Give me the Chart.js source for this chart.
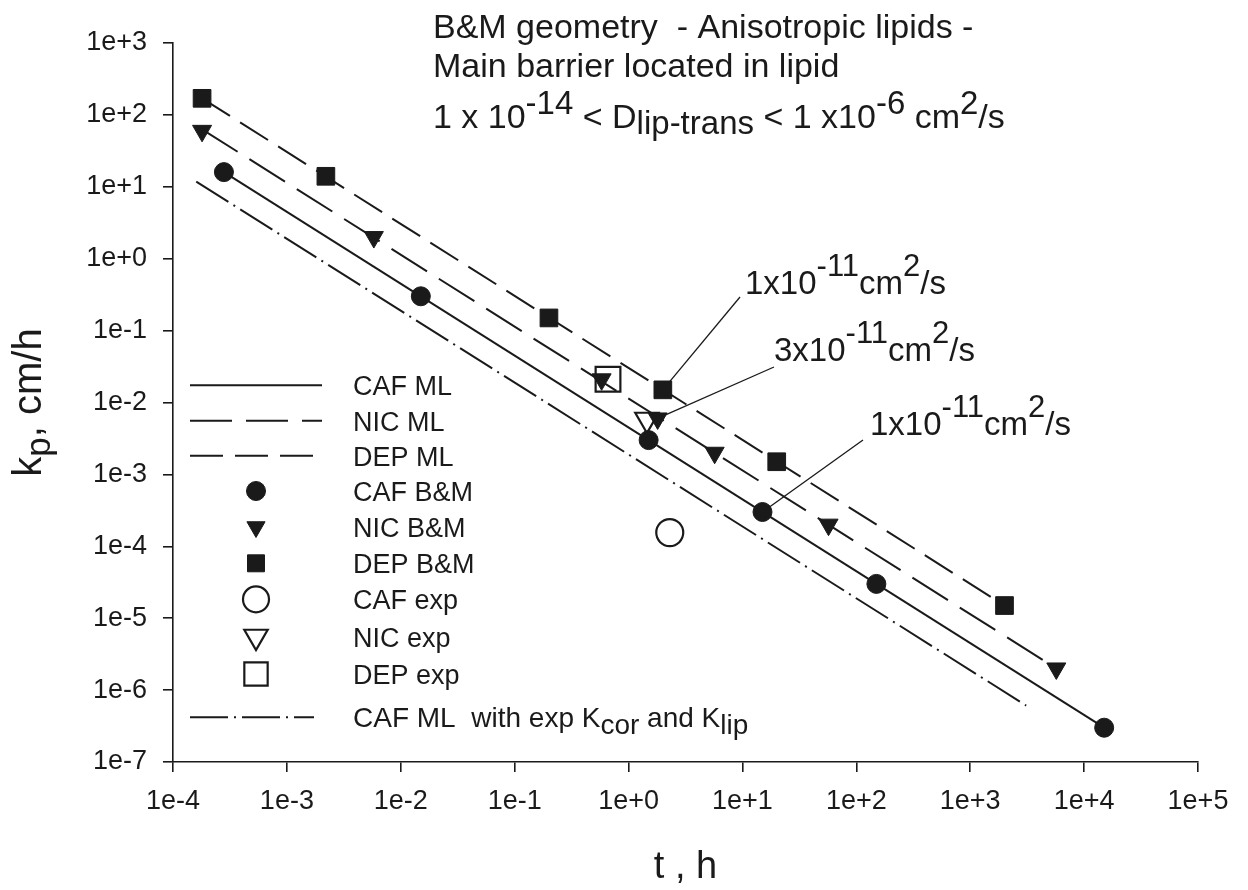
<!DOCTYPE html>
<html lang="en">
<head>
<meta charset="UTF-8">
<title>kp vs t - B&amp;M geometry</title>
<script src="https://cdn.jsdelivr.net/npm/chart.js"></script>
<style>
    html, body { margin: 0; padding: 0; background: #fff; }
    canvas { display: block; }
</style>
</head>
<body>
<canvas id="kpChart" width="1248" height="890"></canvas>
<script>
// tick labels (powers of ten)
const xTickLabels = ['1e-4', '1e-3', '1e-2', '1e-1', '1e+0', '1e+1', '1e+2', '1e+3', '1e+4', '1e+5'];
const yTickLabels = ['1e-7', '1e-6', '1e-5', '1e-4', '1e-3', '1e-2', '1e-1', '1e+0', '1e+1', '1e+2', '1e+3'];

// B&M points, t (h) and kp (cm/h)
const cafBMt = [2.8e-4, 0.015, 1.5, 15, 150, 1.5e4];
const cafBMkp = [16, 0.3, 3e-3, 3e-4, 3e-5, 3e-7];
const nicBMt = [1.8e-4, 5.8e-3, 0.58, 1.8, 5.7, 57, 5.7e3];
const nicBMkp = [60, 2, 0.021, 6e-3, 2e-3, 2e-4, 2e-6];
const depBMt = [1.8e-4, 2.2e-3, 0.2, 2, 20, 2000];
const depBMkp = [170, 14, 0.15, 0.015, 1.5e-3, 1.5e-5];

// ML lines (end points)
const cafMLt = [2.8e-4, 1.5e4];
const cafMLkp = [16, 3e-7];
const nicMLt = [1.8e-4, 5.7e3];
const nicMLkp = [63, 2e-6];
const depMLt = [1.8e-4, 2000];
const depMLkp = [170, 1.5e-5];
const cafCorT = [1.6e-4, 3.1e3];
const cafCorKp = [11.8, 6.1e-7];

// experimental values
const cafExpT = [2.3];
const cafExpKp = [1.55e-4];
const nicExpT = [1.45];
const nicExpKp = [5.8e-3];
const depExpT = [0.66];
const depExpKp = [0.021];

// D annotations: which point they point at
const annoCoef = ['1', '3', '1'];
const annoExp = ['-11', '-11', '-11'];
const annoT = [2, 1.8, 15];
const annoKp = [0.015, 6e-3, 3e-4];

const ink = '#1a1a1a';
const FONT = '"Liberation Sans", Arial, Helvetica, sans-serif';

function pts(xs, ys) { return xs.map((v, i) => ({ x: v, y: ys[i] })); }

function lineSet(label, xs, ys, dash) {
    return { label, data: pts(xs, ys), showLine: true, borderColor: ink, borderWidth: 2,
             borderDash: dash, pointRadius: 0, pointHoverRadius: 0, fill: false };
}
function markSet(label, xs, ys, style, r, filled) {
    return { label, data: pts(xs, ys), showLine: false, pointStyle: style, pointRadius: r,
             pointHoverRadius: r, pointRotation: style === 'triangle' ? 180 : 0,
             pointBackgroundColor: filled ? ink : 'rgba(0,0,0,0)', pointBorderColor: ink,
             pointBorderWidth: filled ? 1 : 2.2 };
}

// first in list = drawn on top
const datasets = [
    markSet('CAF B&M', cafBMt, cafBMkp, 'circle', 9.5, true),
    markSet('NIC B&M', nicBMt, nicBMkp, 'triangle', 11, true),
    markSet('DEP B&M', depBMt, depBMkp, 'rect', 12.5, true),
    markSet('NIC exp', nicExpT, nicExpKp, 'triangle', 13.5, false),
    markSet('DEP exp', depExpT, depExpKp, 'rect', 17.5, false),
    markSet('CAF exp', cafExpT, cafExpKp, 'circle', 13.5, false),
    lineSet('CAF ML', cafMLt, cafMLkp, []),
    lineSet('NIC ML', nicMLt, nicMLkp, [42, 14]),
    lineSet('DEP ML', depMLt, depMLkp, [33, 12]),
    lineSet('CAF ML cor', cafCorT, cafCorKp, [38, 6, 2, 6])
];

// draws text pieces: [text, kind] kind 0 normal, 1 sup, -1 sub
function drawRich(ctx, x, y, parts, size, small, up, down) {
    parts.forEach(([t, k]) => {
        ctx.font = (k ? small : size) + 'px ' + FONT;
        const dy = k === 1 ? -up : (k === -1 ? down : 0);
        ctx.fillText(t, x, y + dy);
        x += ctx.measureText(t).width;
    });
    return x;
}
function richWidth(ctx, parts, size, small) {
    let w = 0;
    parts.forEach(([t, k]) => { ctx.font = (k ? small : size) + 'px ' + FONT; w += ctx.measureText(t).width; });
    return w;
}

function mark(ctx, style, x, y, r, filled) {
    ctx.beginPath();
    if (style === 'circle') ctx.arc(x, y, r, 0, Math.PI * 2);
    else if (style === 'rect') { const s = r * Math.SQRT1_2; ctx.rect(x - s, y - s, 2 * s, 2 * s); }
    else { ctx.moveTo(x - r * 0.866, y - r / 2); ctx.lineTo(x + r * 0.866, y - r / 2); ctx.lineTo(x, y + r); ctx.closePath(); }
    if (filled) ctx.fill();
    ctx.stroke();
}

const legendRows = [
    { ds: 6, y: 385.3 }, { ds: 7, y: 420.7 }, { ds: 8, y: 455.7 },
    { ds: 0, y: 491 }, { ds: 1, y: 527 }, { ds: 2, y: 563.3 },
    { ds: 5, y: 599.3 }, { ds: 3, y: 636.5 }, { ds: 4, y: 674 },
    { ds: 9, y: 717.3 }
];
const legendR = { 0: 9.5, 1: 10.5, 2: 12, 3: 13.5, 4: 16.5, 5: 13 };
const annoPos = [[745, 294, 740, 297], [774, 361, 774, 367], [870, 435, 863, 440]];

const decor = {
    id: 'decor',
    beforeDatasetsDraw(chart) {
        const { ctx, scales: { x, y } } = chart;
        ctx.save();
        ctx.strokeStyle = ink;
        ctx.lineWidth = 1.3;
        annoPos.forEach((p, i) => {
            ctx.beginPath();
            ctx.moveTo(p[2], p[3]);
            ctx.lineTo(x.getPixelForValue(annoT[i]), y.getPixelForValue(annoKp[i]));
            ctx.stroke();
        });
        ctx.restore();
    },
    afterDraw(chart) {
        const { ctx, chartArea } = chart;
        ctx.save();
        ctx.fillStyle = ink;
        ctx.strokeStyle = ink;
        ctx.textBaseline = 'alphabetic';
        ctx.textAlign = 'left';

        // title block
        ctx.font = '34px ' + FONT;
        ctx.fillText('B&M geometry  - Anisotropic lipids -', 433, 38);
        ctx.fillText('Main barrier located in lipid', 433, 77);
        drawRich(ctx, 433, 128, [['1 x 10', 0], ['-14', 1], [' < D', 0], ['lip-trans', -1],
            [' < 1 x10', 0], ['-6', 1], [' cm', 0], ['2', 1], ['/s', 0]], 34, 33, 14, 6);

        // D annotations
        annoPos.forEach((p, i) => {
            drawRich(ctx, p[0], p[1], [[annoCoef[i] + 'x10', 0], [annoExp[i], 1], ['cm', 0], ['2', 1], ['/s', 0]],
                33, 31, 18, 0);
        });

        // legend
        legendRows.forEach(row => {
            const ds = chart.data.datasets[row.ds];
            if (ds.showLine) {
                ctx.lineWidth = 2;
                ctx.setLineDash(ds.borderDash);
                ctx.beginPath();
                ctx.moveTo(190, row.y);
                ctx.lineTo(row.ds === 9 ? 314 : 322, row.y);
                ctx.stroke();
                ctx.setLineDash([]);
            } else {
                const filled = ds.pointBackgroundColor === ink;
                ctx.lineWidth = filled ? 1 : 2.2;
                mark(ctx, ds.pointStyle, 256, row.y, legendR[row.ds], filled);
            }
            const by = row.y + 10;
            if (row.ds === 9) {
                drawRich(ctx, 353, by, [['CAF ML  with exp K', 0], ['cor', -1], [' and K', 0], ['lip', -1]], 28, 28, 0, 7);
            } else {
                ctx.font = '27px ' + FONT;
                ctx.fillText(ds.label, 353, by);
            }
        });

        // axis titles
        ctx.font = '38px ' + FONT;
        ctx.textAlign = 'center';
        ctx.fillText('t , h', (chartArea.left + chartArea.right) / 2, 878);
        ctx.textAlign = 'left';
        const yParts = [['k', 0], ['p', -1], [', cm/h', 0]];
        const w = richWidth(ctx, yParts, 40, 35);
        ctx.translate(41, (chartArea.top + chartArea.bottom) / 2);
        ctx.rotate(-Math.PI / 2);
        drawRich(ctx, -w / 2, 0, yParts, 40, 35, 0, 9);
        ctx.restore();
    }
};

const axisCommon = {
    type: 'logarithmic',
    border: { display: true, color: ink, width: 1.6 },
    grid: { display: true, drawOnChartArea: false, drawTicks: true, tickLength: 10, color: ink, lineWidth: 1.6 },
};

new Chart(document.getElementById('kpChart'), {
    type: 'scatter',
    data: { datasets },
    options: {
        responsive: false,
        animation: false,
        devicePixelRatio: 1,
        events: [],
        layout: { padding: { top: 43, right: 50, left: 0, bottom: 0 } },
        plugins: { legend: { display: false }, tooltip: { enabled: false } },
        scales: {
            x: Object.assign({}, axisCommon, {
                position: 'bottom', min: 1e-4, max: 1e5,
                afterBuildTicks: s => { s.ticks = xTickLabels.map((_, i) => ({ value: Math.pow(10, i - 4) })); },
                afterFit: s => { s.height = 128; },
                ticks: { autoSkip: false, maxRotation: 0, padding: 13, color: ink,
                         font: { family: FONT, size: 27 },
                         callback: v => xTickLabels[Math.round(Math.log10(v)) + 4] }
            }),
            y: Object.assign({}, axisCommon, {
                position: 'left', min: 1e-7, max: 1e3,
                afterBuildTicks: s => { s.ticks = yTickLabels.map((_, i) => ({ value: Math.pow(10, i - 7) })); },
                afterFit: s => { s.width = 173; },
                ticks: { autoSkip: false, padding: 16, color: ink,
                         font: { family: FONT, size: 27 },
                         callback: v => yTickLabels[Math.round(Math.log10(v)) + 7] }
            })
        }
    },
    plugins: [decor]
});
</script>
</body>
</html>
